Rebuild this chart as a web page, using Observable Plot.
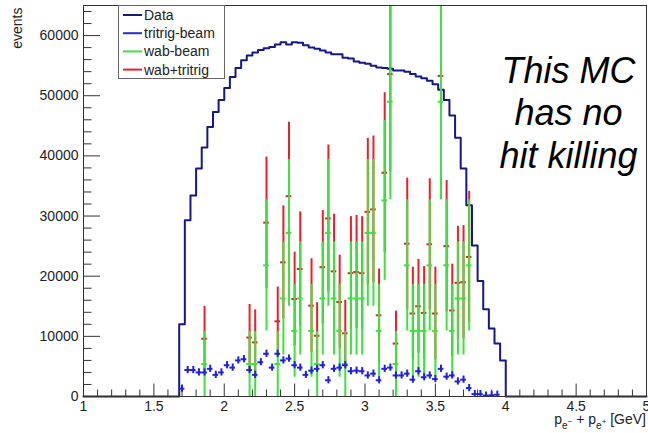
<!DOCTYPE html>
<html><head><meta charset="utf-8">
<script src="https://cdn.jsdelivr.net/npm/d3@7"></script>
<script src="https://cdn.jsdelivr.net/npm/@observablehq/plot@0.6"></script>
<style>html,body{margin:0;padding:0;background:#fff}svg{display:block}</style>
</head><body><div id="chart"></div>
<script>
// ---- Data histogram (step), lower bin edges and contents ----
const histEdges = [1.68,1.72,1.76,1.80,1.84,1.88,1.92,1.96,2.00,2.04,2.08,2.12,2.16,2.20,2.24,2.28,2.32,2.36,2.40,2.44,2.48,2.52,2.56,2.60,2.64,2.68,2.72,2.76,2.80,2.84,2.88,2.92,2.96,3.00,3.04,3.08,3.12,3.16,3.20,3.24,3.28,3.32,3.36,3.40,3.44,3.48,3.52,3.56,3.60,3.64,3.68,3.72,3.76,3.80,3.84,3.88,3.92,3.96];
const histValues = [12000,29300,33400,37900,41400,44800,47300,49300,51300,53100,54600,55900,56700,57200,57600,57900,58100,58500,58900,58500,58900,58800,58400,58000,57800,57500,57200,56900,56900,56300,56200,55700,55500,55300,55000,54700,54600,54500,54200,54200,54000,53600,53200,52900,52500,51900,51000,49300,46700,43000,37900,31800,25100,19200,14500,11300,8800,6000];
const histEnd = 4.00;

// ---- tritrig-beam points (bin centres) ----
const triCenters = [1.70,1.74,1.78,1.82,1.86,1.90,1.94,1.98,2.02,2.06,2.10,2.14,2.18,2.22,2.26,2.30,2.34,2.38,2.42,2.46,2.50,2.54,2.58,2.62,2.66,2.70,2.74,2.78,2.82,2.86,2.90,2.94,2.98,3.02,3.06,3.10,3.14,3.18,3.22,3.26,3.30,3.34,3.38,3.42,3.46,3.50,3.54,3.58,3.62,3.66,3.70,3.74,3.78,3.82,3.86,3.90,3.94];
const triValues = [1300,4400,4400,4000,4000,4600,3600,4000,5200,4800,6000,6200,4400,3600,5700,7100,4800,7100,6000,6300,5200,4800,3600,4300,4600,5200,2700,4600,4800,5200,4200,4300,4200,3500,3800,2700,4600,4800,3500,3500,3800,2800,4200,3200,3500,2900,4600,3300,3500,2500,2800,1400,400,400,150,200,300];
const triErr = 600;

// ---- wab-beam and wab+tritrig points ----
const wabBins = [1.86,2.18,2.22,2.30,2.38,2.42,2.46,2.50,2.54,2.62,2.66,2.70,2.74,2.78,2.82,2.86,2.90,2.94,2.98,3.02,3.06,3.10,3.14,3.18,3.22,3.30,3.34,3.38,3.42,3.46,3.50,3.54,3.58,3.62,3.66,3.70,3.74];
const wabBeam = [5400,5400,5400,21800,5400,16300,27200,10900,16300,10900,5400,16300,27200,16300,10900,5400,16300,16300,16300,27200,27200,10900,32600,49000,5400,21800,10900,10900,10900,21800,10900,49000,21800,10900,16300,16300,21800];
const wabBeamErr = [5400,5400,5400,10900,5400,9400,12200,7700,9400,7700,5400,9400,12200,9400,7700,5400,9400,9400,9400,12200,12200,7700,13300,16300,5400,10900,7700,7700,7700,10900,7700,16300,10900,7700,9400,9400,10900];
const wabTri = [9600,9800,9000,28900,12500,22300,33300,16200,21200,15100,10100,21500,29600,20800,15700,10500,20500,20700,20500,30700,31100,13500,37200,53600,8800,25400,13800,15000,13900,25300,13800,53300,25000,14300,18900,19000,23200];
const wabTriErr = [5400,5500,5400,10900,5700,9400,12300,7800,9500,7800,5500,9400,12200,9500,7800,5500,9400,9400,9400,12200,12200,7700,13300,16300,5400,10900,7700,7800,7700,10900,7700,16300,10900,7700,9400,9400,10900];
const halfBin = 0.02;

// ---- axes / ticks ----
const xMajor = [1,1.5,2,2.5,3,3.5,4,4.5,5];
const xMinor = [1.1,1.2,1.3,1.4,1.6,1.7,1.8,1.9,2.1,2.2,2.3,2.4,2.6,2.7,2.8,2.9,3.1,3.2,3.3,3.4,3.6,3.7,3.8,3.9,4.1,4.2,4.3,4.4,4.6,4.7,4.8,4.9];
const yMajor = [0,10000,20000,30000,40000,50000,60000];
const yMinor = [2000,4000,6000,8000,12000,14000,16000,18000,22000,24000,26000,28000,32000,34000,36000,38000,42000,44000,46000,48000,52000,54000,56000,58000,62000,64000];

// ---- legend & text ----
const legendLabels = ["Data","tritrig-beam","wab-beam","wab+tritrig"];
const legendColors = ["#17178c","#2a2ad4","#3de23d","#e8202a"];
const note = "This MC\nhas no\nhit killing";

const cNavy = "#17178c", cBlue = "#2020e0", cGreen = "#3de23d", cRed = "#e8202a";

const W = 648, H = 433, mL = 83, mR = 2, mT = 5, mB = 37;
const fw = W - mL - mR, fh = H - mT - mB;

const step = [{x: 1, y: 0}]
  .concat(histEdges.map((e, i) => ({x: e, y: histValues[i]})))
  .concat([{x: histEnd, y: 0}, {x: 5, y: 0}]);
const tri = triCenters.map((c, i) => ({c, v: triValues[i]}));
const wab = wabBins.map((b, i) => ({b, g: wabBeam[i], ge: wabBeamErr[i], r: wabTri[i], re: wabTriErr[i]}));

const chart = Plot.plot({
  width: W, height: H,
  marginLeft: mL, marginRight: mR, marginTop: mT, marginBottom: mB,
  style: {fontFamily: "'Liberation Sans', Arial, sans-serif", fontSize: "14px", color: "#222", background: "#fff"},
  x: {domain: [1, 5], axis: null},
  y: {domain: [0, 65000], clamp: true, axis: null},
  marks: [
    Plot.line(step, {x: "x", y: "y", curve: "step-after", stroke: cNavy, strokeWidth: 2}),
    // wab+tritrig (red)
    Plot.ruleX(wab, {x: "b", y1: d => d.r - d.re, y2: d => d.r + d.re, stroke: cRed, strokeWidth: 2}),
    Plot.ruleY(wab, {y: "r", x1: d => d.b - halfBin, x2: d => d.b + halfBin, stroke: cRed, strokeWidth: 2}),
    // wab-beam (green)
    Plot.ruleX(wab, {x: "b", y1: d => d.g - d.ge, y2: d => d.g + d.ge, stroke: cGreen, strokeWidth: 2}),
    Plot.ruleY(wab, {y: "g", x1: d => d.b - halfBin, x2: d => d.b + halfBin, stroke: cGreen, strokeWidth: 2}),
    // tritrig-beam (blue crosses)
    Plot.ruleX(tri, {x: "c", y1: d => Math.max(0, d.v - triErr), y2: d => d.v + triErr, stroke: cBlue, strokeWidth: 2}),
    Plot.ruleY(tri, {y: "v", x1: d => d.c - halfBin, x2: d => d.c + halfBin, stroke: cBlue, strokeWidth: 2}),
    // ticks (inside frame, ROOT style)
    Plot.tickY(yMajor, {y: d => d, insetRight: fw - 17, stroke: "#333"}),
    Plot.tickY(yMinor, {y: d => d, insetRight: fw - 8.5, stroke: "#333"}),
    Plot.tickX(xMajor, {x: d => d, insetTop: fh - 12.5, stroke: "#333"}),
    Plot.tickX(xMinor, {x: d => d, insetTop: fh - 6.5, stroke: "#333"}),
    Plot.axisY(yMajor, {tickSize: 0, tickPadding: 5, tickFormat: d3.format("d"), label: null, fontSize: 14}),
    Plot.axisX(xMajor, {tickSize: 0, tickPadding: 5, tickFormat: d => String(d), label: null, fontSize: 14}),
    Plot.frame({stroke: "#333"}),
    Plot.text(["events"], {frameAnchor: "top-left", dx: -66, dy: 2, rotate: -90, textAnchor: "end", lineAnchor: "middle", fontSize: 14, fill: "#222"}),
    Plot.text([note], {frameAnchor: "top-right", dx: -78, dy: 47, textAnchor: "middle", lineAnchor: "top", fontSize: 36, fontStyle: "italic", lineHeight: 1.18, fill: "#000"})
  ]
});
document.getElementById("chart").appendChild(chart);

const svg = d3.select(chart);
// legend
const lg = svg.append("g").attr("font-family", "'Liberation Sans', Arial, sans-serif")
  .attr("font-size", 14).attr("text-anchor", "start");
lg.append("rect").attr("x", 118.5).attr("y", 5.5).attr("width", 106).attr("height", 73)
  .attr("fill", "#fff").attr("stroke", "#666");
legendLabels.forEach((lab, i) => {
  const y = 15 + i * 18.2;
  lg.append("line").attr("x1", 123).attr("x2", 142).attr("y1", y).attr("y2", y)
    .attr("stroke", legendColors[i]).attr("stroke-width", 2);
  lg.append("text").attr("x", 144).attr("y", y).attr("dy", "0.35em").attr("fill", "#222")
    .attr("text-anchor", "start").text(lab);
});
// x-axis title with sub/superscripts
const xt = svg.append("text").attr("x", 646).attr("y", 424).attr("text-anchor", "end")
  .attr("font-family", "'Liberation Sans', Arial, sans-serif").attr("font-size", 14).attr("fill", "#222");
xt.append("tspan").text("p");
xt.append("tspan").attr("dy", 5).attr("font-size", 10).text("e");
xt.append("tspan").attr("dy", -5).attr("font-size", 8).text("\u2212");
xt.append("tspan").attr("dy", 0).text(" + p");
xt.append("tspan").attr("dy", 5).attr("font-size", 10).text("e");
xt.append("tspan").attr("dy", -5).attr("font-size", 8).text("+");
xt.append("tspan").attr("dy", 0).text(" [GeV]");
</script>
</body></html>
